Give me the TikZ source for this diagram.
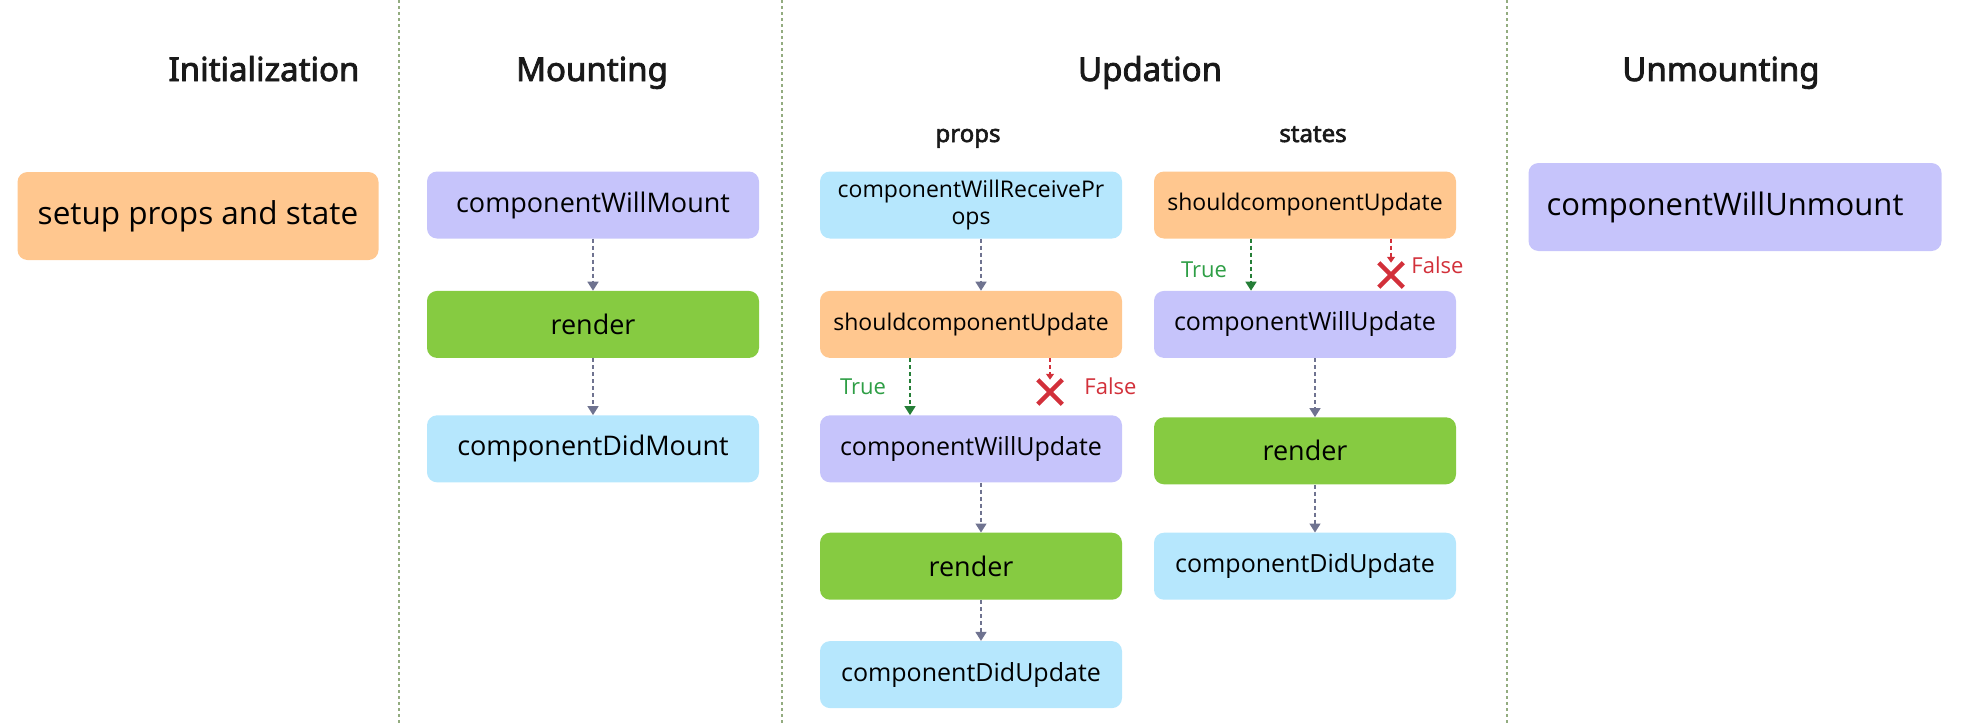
\documentclass[tikz,border=0pt]{standalone}
\usepackage{fontspec}
\setmainfont{Open Sans}
\newfontfamily\headfont[FakeBold=2.5]{Noto Sans}
\usetikzlibrary{positioning,arrows.meta,shapes.misc}
\definecolor{initorange}{HTML}{FFC78F}
\definecolor{willpurple}{HTML}{C6C4FB}
\definecolor{rendergreen}{HTML}{86CB41}
\definecolor{didblue}{HTML}{B6E7FD}
\definecolor{flowgrey}{HTML}{6F7390}
\definecolor{truegreen}{HTML}{2E9E45}
\definecolor{falsered}{HTML}{D2303A}
\definecolor{dividergreen}{HTML}{93AC80}
\begin{document}
\begin{tikzpicture}[x=1pt, y=-1pt,
  box/.style={rounded corners=10pt, minimum width=302pt, minimum height=67pt, inner sep=0pt,
    align=center, text=black, font=\fontsize{25}{27}\selectfont},
  head/.style={font=\headfont\fontsize{33}{36}\selectfont, text=black!90, anchor=base},
  sub/.style={font=\headfont\fontsize{24}{26}\selectfont, text=black!90, anchor=base},
  flow/.style={draw=flowgrey, line width=1.5pt, dash pattern=on 4pt off 3pt,
    -{Triangle[length=9pt, width=11pt]}},
  yes/.style={flow, draw=truegreen!80!black, -{Triangle[length=9pt, width=11pt, fill=truegreen!80!black]}},
  no/.style={flow, draw=falsered, -{Triangle[length=6pt, width=8pt, fill=falsered]}},
  nomark/.style={cross out, draw=falsered, line width=4.5pt, minimum size=20pt, inner sep=0pt},
  yeslabel/.style={text=truegreen, font=\fontsize{22}{24}\selectfont, inner sep=0pt},
  nolabel/.style={text=falsered, font=\fontsize{22}{24}\selectfont, inner sep=0pt},
  divider/.style={draw=dividergreen, line width=1.6pt, dash pattern=on 3pt off 3pt}]
\useasboundingbox (0,0) rectangle (1967,723);
% column dividers
\draw[divider] (399,0) -- (399,723);
\draw[divider] (782,0) -- (782,723);
\draw[divider] (1507,0) -- (1507,723);
% headings
\node[head] (initHead) at (264,81) {Initialization};
\node[head] (mountHead) at (592,81) {Mounting};
\node[head] (updateHead) at (1150,81) {Updation};
\node[head] (unmountHead) at (1721,81) {Unmounting};
\node[sub] (propsHead) at (968,142) {props};
\node[sub] (statesHead) at (1313,142) {states};
% initialization
\node[box, fill=initorange, minimum width=361pt, minimum height=88pt, font=\fontsize{31.5}{33}\selectfont] (setup) at (198,216) {setup props and state};
% mounting
\node[box, fill=willpurple, minimum width=332pt, font=\fontsize{27}{29}\selectfont] (willMount) at (593,205) {componentWillMount};
\node[box, fill=rendergreen, minimum width=332pt, font=\fontsize{27}{29}\selectfont, below=52pt of willMount] (mountRender) {render};
\node[box, fill=didblue, minimum width=332pt, font=\fontsize{27}{29}\selectfont, below=57pt of mountRender] (didMount) {componentDidMount};
\draw[flow] (willMount) -- (mountRender);
\draw[flow] (mountRender) -- (didMount);
% updation, props
\node[box, fill=didblue, font=\fontsize{23}{27}\selectfont] (receiveProps) at (971,205) {componentWillReceivePr\\ops};
\node[box, fill=initorange, font=\fontsize{23}{25}\selectfont, below=52pt of receiveProps] (propsShould) {shouldcomponentUpdate};
\node[box, fill=willpurple, below=57pt of propsShould] (propsWill) {componentWillUpdate};
\node[box, fill=rendergreen, font=\fontsize{27}{29}\selectfont, below=50pt of propsWill] (propsRender) {render};
\node[box, fill=didblue, below=41pt of propsRender] (propsDid) {componentDidUpdate};
\draw[flow] ([xshift=10]receiveProps.south) -- ([xshift=10]propsShould.north);
\draw[yes] ([xshift=-61]propsShould.south) -- ([xshift=-61]propsWill.north);
\node[nomark] (propsNo) at (1050,392) {};
\draw[no] (propsNo |- propsShould.south) -- (propsNo.north);
\node[yeslabel] (propsTrue) at (863,387) {True};
\node[nolabel, right=22pt of propsNo, yshift=6pt] (propsFalse) {False};
\draw[flow] ([xshift=10]propsWill.south) -- ([xshift=10]propsRender.north);
\draw[flow] ([xshift=10]propsRender.south) -- ([xshift=10]propsDid.north);
% updation, states
\node[box, fill=initorange, font=\fontsize{23}{25}\selectfont] (statesShould) at (1305,205) {shouldcomponentUpdate};
\node[box, fill=willpurple, below=52pt of statesShould] (statesWill) {componentWillUpdate};
\node[box, fill=rendergreen, font=\fontsize{27}{29}\selectfont, below=59pt of statesWill] (statesRender) {render};
\node[box, fill=didblue, below=48pt of statesRender] (statesDid) {componentDidUpdate};
\draw[yes] ([xshift=-54]statesShould.south) -- ([xshift=-54]statesWill.north);
\node[nomark] (statesNo) at (1391,275) {};
\draw[no] (statesNo |- statesShould.south) -- (statesNo.north);
\node[yeslabel] (statesTrue) at (1204,270) {True};
\node[nolabel, right=8pt of statesNo, yshift=10pt] (statesFalse) {False};
\draw[flow] ([xshift=10]statesWill.south) -- ([xshift=10]statesRender.north);
\draw[flow] ([xshift=10]statesRender.south) -- ([xshift=10]statesDid.north);
% unmounting
\node[box, fill=willpurple, minimum width=413pt, minimum height=88pt, font=\fontsize{31}{33}\selectfont] (willUnmount) at (1735,207) {componentWillUnmount\hspace*{20pt}};
\end{tikzpicture}
\end{document}
